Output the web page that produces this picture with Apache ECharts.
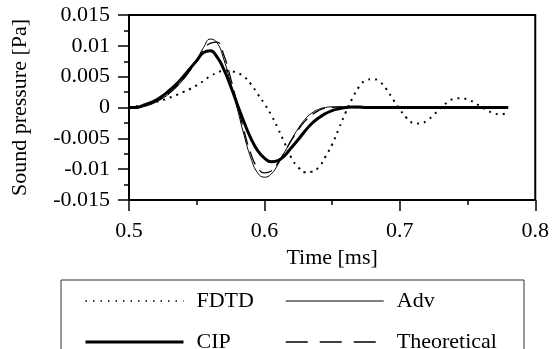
<!DOCTYPE html>
<html>
<head>
<meta charset="utf-8">
<script src="https://cdn.jsdelivr.net/npm/echarts@6/dist/echarts.min.js"></script>
<style>
  html, body { margin: 0; padding: 0; background: #fff; }
  #chart { width: 552px; height: 349px; }
</style>
</head>
<body>
<div id="chart"></div>
<script>
// time axis [ms]
const times = [
  0.500, 0.505, 0.510, 0.515, 0.520, 0.525, 0.530, 0.535, 0.540, 0.545,
  0.550, 0.555, 0.560, 0.565, 0.570, 0.575, 0.580, 0.585, 0.590, 0.595,
  0.600, 0.605, 0.610, 0.615, 0.620, 0.625, 0.630, 0.635, 0.640, 0.645,
  0.650, 0.655, 0.660, 0.665, 0.670, 0.675, 0.680, 0.685, 0.690, 0.695,
  0.700, 0.705, 0.710, 0.715, 0.720, 0.725, 0.730, 0.735, 0.740, 0.745,
  0.750, 0.755, 0.760, 0.765, 0.770, 0.775, 0.780
];

// sound pressure [Pa]
const fdtd = [
  0.0000, 0.0002, 0.0004, 0.0007, 0.0009, 0.0012, 0.0016, 0.0020, 0.0025, 0.0030,
  0.0036, 0.0043, 0.0051, 0.0056, 0.0060, 0.0059, 0.0056, 0.0050, 0.0038, 0.0022,
  0.0006, -0.0012, -0.0034, -0.0058, -0.0082, -0.0097, -0.0105, -0.0104, -0.0097, -0.0080,
  -0.0060, -0.0034, -0.0008, 0.0015, 0.0034, 0.0044, 0.0046, 0.0042, 0.0030, 0.0013,
  -0.0003, -0.0017, -0.0025, -0.0026, -0.0021, -0.0012, -0.0001, 0.0008, 0.0014, 0.0015,
  0.0013, 0.0008, 0.0001, -0.0005, -0.0010, -0.0011, -0.0008
];
const cip = [
  0.0000, 0.0000, 0.0003, 0.0007, 0.0012, 0.0019, 0.0028, 0.0038, 0.0050, 0.0063,
  0.0076, 0.0089, 0.0092, 0.0082, 0.0062, 0.0035, 0.0005, -0.0024, -0.0050, -0.0070,
  -0.0082, -0.0088, -0.0086, -0.0078, -0.0065, -0.0052, -0.0038, -0.0026, -0.0017, -0.0010,
  -0.0005, -0.0002, 0.0000, 0.0001, 0.0001, 0.0000, 0.0000, 0.0000, 0.0000, 0.0000,
  0.0000, 0.0000, 0.0000, 0.0000, 0.0000, 0.0000, 0.0000, 0.0000, 0.0000, 0.0000,
  0.0000, 0.0000, 0.0000, 0.0000, 0.0000, 0.0000, 0.0000
];
const adv = [
  0.0000, -0.0001, 0.0001, 0.0004, 0.0009, 0.0015, 0.0023, 0.0033, 0.0045, 0.0060,
  0.0077, 0.0097, 0.0111, 0.0105, 0.0078, 0.0040, -0.0002, -0.0045, -0.0082, -0.0106,
  -0.0113, -0.0108, -0.0092, -0.0072, -0.0052, -0.0034, -0.0019, -0.0009, -0.0003, 0.0000,
  0.0001, 0.0001, 0.0000, 0.0000, 0.0000, 0.0000, 0.0000, 0.0000, 0.0000, 0.0000,
  0.0000, 0.0000, 0.0000, 0.0000, 0.0000, 0.0000, 0.0000, 0.0000, 0.0000, 0.0000,
  0.0000, 0.0000, 0.0000, 0.0000, 0.0000, 0.0000, 0.0000
];
const theoretical = [
  0.0000, 0.0000, 0.0002, 0.0005, 0.0010, 0.0016, 0.0024, 0.0034, 0.0046, 0.0060,
  0.0076, 0.0093, 0.0104, 0.0106, 0.0085, 0.0048, 0.0005, -0.0038, -0.0075, -0.0098,
  -0.0106, -0.0103, -0.0090, -0.0072, -0.0053, -0.0036, -0.0022, -0.0012, -0.0005, -0.0001,
  0.0000, 0.0001, 0.0000, 0.0000, 0.0000, 0.0000, 0.0000, 0.0000, 0.0000, 0.0000,
  0.0000, 0.0000, 0.0000, 0.0000, 0.0000, 0.0000, 0.0000, 0.0000, 0.0000, 0.0000,
  0.0000, 0.0000, 0.0000, 0.0000, 0.0000, 0.0000, 0.0000
];

const xTickLabels = { 5: "0.5", 6: "0.6", 7: "0.7", 8: "0.8" };
const yTickLabels = { "-3": "-0.015", "-2": "-0.01", "-1": "-0.005", "0": "0", "1": "0.005", "2": "0.01", "3": "0.015" };

const font = '"Liberation Serif", "Times New Roman", serif';

function pairs(vals) {
  return times.map((t, i) => [t, vals[i]]);
}

const chart = echarts.init(document.getElementById("chart"));

const legendCommon = {
  orient: "vertical",
  top: 285,
  height: 120,
  itemWidth: 98,
  itemHeight: 22,
  itemGap: 19,
  selectedMode: false,
  itemStyle: { opacity: 0 },
  textStyle: {
    fontFamily: font,
    fontSize: 22,
    color: "#000",
    lineHeight: 22,
    padding: [0, 0, 0, 8]
  }
};

const option = {
  backgroundColor: "#fff",
  animation: false,
  grid: {
    left: 129,
    right: 14,
    top: 15,
    bottom: 149,
    show: true,
    borderColor: "#000",
    borderWidth: 2
  },
  legend: [
    Object.assign({}, legendCommon, {
      left: 79,
      data: [
        { name: "FDTD", lineStyle: { width: 1.5, type: [1.5, 6] } },
        { name: "CIP", lineStyle: { width: 3 } }
      ]
    }),
    Object.assign({}, legendCommon, {
      left: 280,
      data: [
        { name: "Adv", lineStyle: { width: 1 } },
        { name: "Theoretical", lineStyle: { width: 1.5, type: [22, 12] } }
      ]
    })
  ],
  graphic: [
    {
      type: "rect",
      shape: { x: 61, y: 280, width: 463, height: 90 },
      style: { fill: "none", stroke: "#333", lineWidth: 1 },
      silent: true
    }
  ],
  xAxis: {
    type: "value",
    min: 0.5,
    max: 0.8,
    interval: 0.1,
    name: "Time [ms]",
    nameLocation: "middle",
    nameGap: 44,
    nameTextStyle: { fontFamily: font, fontSize: 22, color: "#000" },
    axisLine: { onZero: false, lineStyle: { color: "#000", width: 2 } },
    axisTick: { length: 11, lineStyle: { color: "#000", width: 1.5 } },
    minorTick: { show: true, splitNumber: 2, length: 5, lineStyle: { color: "#000", width: 1.5 } },
    splitLine: { show: false },
    axisLabel: {
      margin: 20,
      fontFamily: font,
      fontSize: 22,
      color: "#000",
      formatter: v => xTickLabels[Math.round(v * 10)] || ""
    }
  },
  yAxis: {
    type: "value",
    min: -0.015,
    max: 0.015,
    interval: 0.005,
    name: "Sound pressure [Pa]",
    nameLocation: "middle",
    nameGap: 98,
    nameTextStyle: { fontFamily: font, fontSize: 22, color: "#000" },
    axisLine: { show: true, onZero: false, lineStyle: { color: "#000", width: 2 } },
    axisTick: { show: true, length: 11, lineStyle: { color: "#000", width: 1.5 } },
    minorTick: { show: true, splitNumber: 2, length: 5, lineStyle: { color: "#000", width: 1.5 } },
    splitLine: { show: false },
    axisLabel: {
      margin: 19,
      fontFamily: font,
      fontSize: 22,
      color: "#000",
      formatter: v => yTickLabels[String(Math.round(v / 0.005))]
    }
  },
  series: [
    {
      name: "FDTD",
      type: "line",
      data: pairs(fdtd),
      smooth: true,
      symbol: "none",
      lineStyle: { color: "#000", width: 2, type: [2, 5] },
      itemStyle: { color: "#000" },
      z: 2
    },
    {
      name: "Adv",
      type: "line",
      data: pairs(adv),
      smooth: true,
      symbol: "none",
      lineStyle: { color: "#000", width: 1 },
      itemStyle: { color: "#000" },
      z: 3
    },
    {
      name: "CIP",
      type: "line",
      data: pairs(cip),
      smooth: true,
      symbol: "none",
      lineStyle: { color: "#000", width: 3 },
      itemStyle: { color: "#000" },
      z: 4
    },
    {
      name: "Theoretical",
      type: "line",
      data: pairs(theoretical),
      smooth: true,
      symbol: "none",
      lineStyle: { color: "#000", width: 1.3, type: [14, 7] },
      itemStyle: { color: "#000" },
      z: 3
    }
  ]
};

chart.setOption(option);
</script>
</body>
</html>
